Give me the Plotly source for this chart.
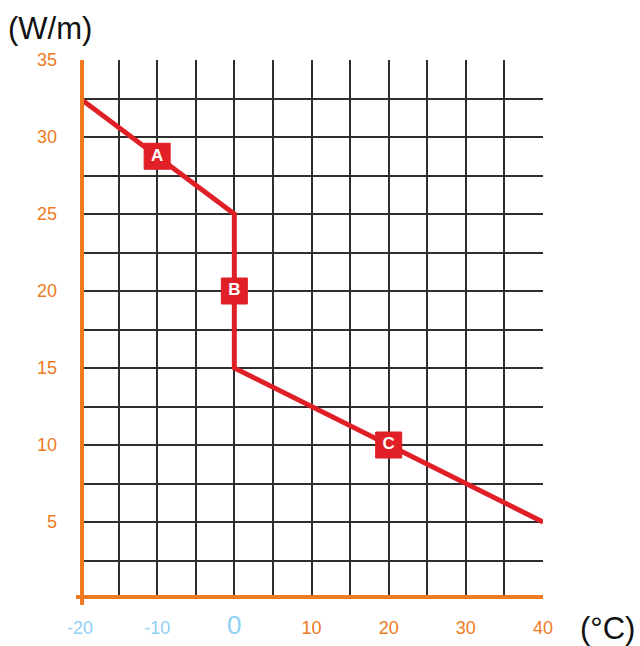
import plotly.graph_objects as go

# Data
line_x = [-20, 0, 0, 40]
line_y = [32.5, 25, 15, 5]
label_x = [-10, 0, 20]
label_y = [28.75, 20, 10]
label_text = ["A", "B", "C"]

x_ticks = [-20, -15, -10, -5, 0, 5, 10, 15, 20, 25, 30, 35, 40]
y_ticks = [0, 2.5, 5, 7.5, 10, 12.5, 15, 17.5, 20, 22.5, 25, 27.5, 30, 32.5, 35]

ORANGE = "#f07a22"
BLUE = "#8fd0f5"
RED = "#e01f26"

def xlab(v):
    if v % 10 != 0:
        return ""
    if v < 0:
        return f'<span style="color:{BLUE}">{v}</span>'
    if v == 0:
        return f'<span style="color:{BLUE};font-size:26px">{v}</span>'
    return f'<span style="color:{ORANGE}">{v}</span>'

def ylab(v):
    if v % 5 != 0 or v == 0:
        return ""
    return str(int(v))

L, R, T, B = 80, 97, 60, 47
PW, PH = 640 - L - R, 646 - T - B

fig = go.Figure()
fig.add_trace(go.Scatter(x=line_x, y=line_y, mode="lines",
                         line=dict(color=RED, width=5), hoverinfo="skip"))
fig.add_trace(go.Scatter(x=label_x, y=label_y, mode="markers+text",
                         marker=dict(symbol="square", size=26, color=RED,
                                     line=dict(color=RED, width=1)),
                         text=["<b>%s</b>" % t for t in label_text], textposition="middle center",
                         textfont=dict(color="white", size=17, family="Liberation Sans"),
                         hoverinfo="skip"))

# orange axis lines
fig.add_shape(type="line", xref="x", yref="paper", x0=-20, x1=-20, y0=-6 / PH, y1=1,
              line=dict(color=ORANGE, width=8))
fig.add_shape(type="line", xref="paper", yref="y", x0=-4 / PW, x1=1, y0=0, y1=0,
              line=dict(color=ORANGE, width=8))

fig.add_annotation(text="(W/m)", xref="paper", yref="paper",
                   x=(6 - L) / PW, y=(646 - 28 - B) / PH,
                   showarrow=False, font=dict(size=31, color="#111111", family="Liberation Sans"),
                   xanchor="left", yanchor="middle")
fig.add_annotation(text="(°C)", xref="paper", yref="paper",
                   x=(637 - L) / PW, y=(646 - 628 - B) / PH,
                   showarrow=False, font=dict(size=31, color="#111111", family="Liberation Sans"),
                   xanchor="right", yanchor="middle")

fig.update_layout(
    width=640, height=646,
    margin=dict(l=L, r=R, t=T, b=B, autoexpand=False),
    plot_bgcolor="white", paper_bgcolor="white",
    showlegend=False,
    font=dict(family="Liberation Sans"),
    xaxis=dict(range=[-20, 40], tickvals=x_ticks, ticktext=[xlab(v) for v in x_ticks],
               showgrid=True, gridcolor="#2e2e2e", gridwidth=2, zeroline=False,
               showline=False, ticks="", tickfont=dict(size=18, color=ORANGE),
               ticklabelstandoff=16, automargin=False, fixedrange=True),
    yaxis=dict(range=[0, 35], tickvals=y_ticks, ticktext=[ylab(v) for v in y_ticks],
               showgrid=True, gridcolor="#2e2e2e", gridwidth=2, zeroline=False,
               showline=False, ticks="", tickfont=dict(size=18, color=ORANGE),
               ticklabelstandoff=22, automargin=False, fixedrange=True),
)

fig.write_html("out.html", config={"displayModeBar": False},
               post_script="document.body.style.margin='0';document.body.style.overflow='hidden';")
